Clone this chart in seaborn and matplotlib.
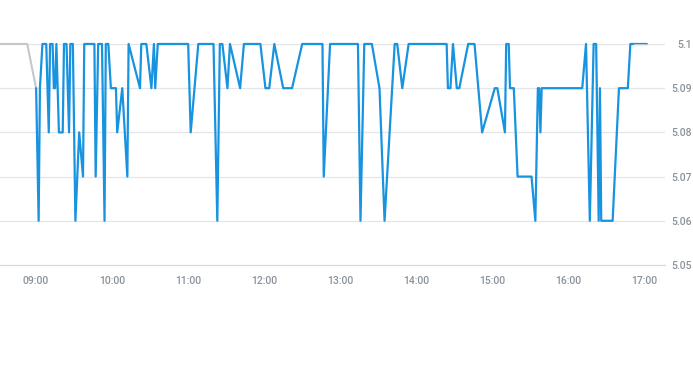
import matplotlib
matplotlib.use("Agg")
import matplotlib.pyplot as plt
import matplotlib.dates as mdates
import seaborn as sns
import pandas as pd

DAY = "2024-01-02 "

pre_times = ["08:32", "08:53", "09:00"]
pre_values = [5.10, 5.10, 5.09]

times = ["09:00", "09:02", "09:03", "09:05", "09:08", "09:10", "09:11", "09:13", "09:14", "09:15",
         "09:16", "09:18", "09:21", "09:22", "09:24", "09:26", "09:27", "09:29", "09:31", "09:34",
         "09:37", "09:38", "09:46", "09:47", "09:49", "09:52", "09:54", "09:55", "09:57", "09:59",
         "10:03", "10:04", "10:08", "10:12", "10:13", "10:22", "10:23", "10:27", "10:31", "10:33",
         "10:34", "10:36", "11:00", "11:02", "11:08", "11:20", "11:23", "11:25", "11:27", "11:31",
         "11:33", "11:41", "11:44", "11:57", "12:01", "12:04", "12:08", "12:15", "12:22", "12:30",
         "12:46", "12:47", "12:52", "13:14", "13:16", "13:19", "13:25", "13:31", "13:35", "13:43",
         "13:45", "13:49", "13:54", "14:24", "14:25", "14:27", "14:29", "14:32", "14:34", "14:41",
         "14:46", "14:52", "15:02", "15:04", "15:10", "15:11", "15:13", "15:14", "15:17", "15:20",
         "15:31", "15:34", "15:36", "15:37", "15:38", "15:39", "16:11", "16:14", "16:17", "16:20",
         "16:22", "16:24", "16:25", "16:26", "16:35", "16:40", "16:47", "16:49", "17:02"]
values = [5.09, 5.06, 5.09, 5.10, 5.10, 5.08, 5.10, 5.10, 5.09, 5.09,
          5.10, 5.08, 5.08, 5.10, 5.10, 5.08, 5.10, 5.10, 5.06, 5.08,
          5.07, 5.10, 5.10, 5.07, 5.10, 5.10, 5.06, 5.10, 5.10, 5.09,
          5.09, 5.08, 5.09, 5.07, 5.10, 5.09, 5.10, 5.10, 5.09, 5.10,
          5.09, 5.10, 5.10, 5.08, 5.10, 5.10, 5.06, 5.10, 5.10, 5.09,
          5.10, 5.09, 5.10, 5.10, 5.09, 5.09, 5.10, 5.09, 5.09, 5.10,
          5.10, 5.07, 5.10, 5.10, 5.06, 5.10, 5.10, 5.09, 5.06, 5.10,
          5.10, 5.09, 5.10, 5.10, 5.09, 5.09, 5.10, 5.09, 5.09, 5.10,
          5.10, 5.08, 5.09, 5.09, 5.08, 5.10, 5.10, 5.09, 5.09, 5.07,
          5.07, 5.06, 5.09, 5.09, 5.08, 5.09, 5.09, 5.10, 5.06, 5.10,
          5.10, 5.06, 5.09, 5.06, 5.06, 5.09, 5.09, 5.10, 5.10]

tail_times = ["16:52", "17:02"]
tail_values = [5.10, 5.10]

x_tick_labels = ["09:00", "10:00", "11:00", "12:00", "13:00", "14:00", "15:00", "16:00", "17:00"]
y_ticks = [5.05, 5.06, 5.07, 5.08, 5.09, 5.10]
y_tick_labels = ["5.05", "5.06", "5.07", "5.08", "5.09", "5.1"]
x_start, x_end = "08:31:30", "17:16:20"

sns.set_theme(style="white")
plt.rcParams["font.family"] = ["Roboto", "DejaVu Sans"]

def to_dt(lst):
    return pd.to_datetime([DAY + t for t in lst])

main_df = pd.DataFrame({"time": to_dt(times), "price": values})
pre_df = pd.DataFrame({"time": to_dt(pre_times), "price": pre_values})
tail_df = pd.DataFrame({"time": to_dt(tail_times), "price": tail_values})

fig = plt.figure(figsize=(6.93, 3.65), dpi=100)
ax = fig.add_axes([0.0, 0.274, 665 / 693, 0.8795 - 0.274])

grid_c = "#e3e6ea"
for yv in y_ticks[1:]:
    ax.axhline(yv, color=grid_c, lw=0.9, zorder=0)

sns.lineplot(data=pre_df, x="time", y="price", ax=ax, color="#c3c8cd", lw=1.5,
             sort=False, estimator=None, clip_on=False)
sns.lineplot(data=main_df, x="time", y="price", ax=ax, color="#1793e0", lw=1.6,
             sort=False, estimator=None, clip_on=False)
sns.lineplot(data=tail_df, x="time", y="price", ax=ax, color="#b9cbd9", lw=0.7,
             sort=False, estimator=None, clip_on=False)

ax.set_xlim(pd.Timestamp(DAY + x_start), pd.Timestamp(DAY + x_end))
ax.set_ylim(5.05, 5.10)

ax.set_xticks(to_dt(x_tick_labels))
ax.set_xticklabels(x_tick_labels)
ax.yaxis.tick_right()
ax.set_yticks(y_ticks)
ax.set_yticklabels(y_tick_labels)

for s in ["top", "left", "right"]:
    ax.spines[s].set_visible(False)
ax.spines["bottom"].set_color("#d5d9de")
ax.spines["bottom"].set_linewidth(0.9)

ax.tick_params(axis="x", length=4, width=0.8, color="#d5d9de", pad=4,
               labelsize=7.5, labelcolor="#8a929b")
ax.tick_params(axis="y", length=0, pad=19.5, labelsize=7.5, labelcolor="#8a929b")
for lbl in ax.get_yticklabels():
    lbl.set_horizontalalignment("right")
for lbl in ax.get_xticklabels() + ax.get_yticklabels():
    lbl.set_fontweight("medium")

ax.set_xlabel("")
ax.set_ylabel("")
ax.grid(False)

fig.savefig("out.png", dpi=100)
